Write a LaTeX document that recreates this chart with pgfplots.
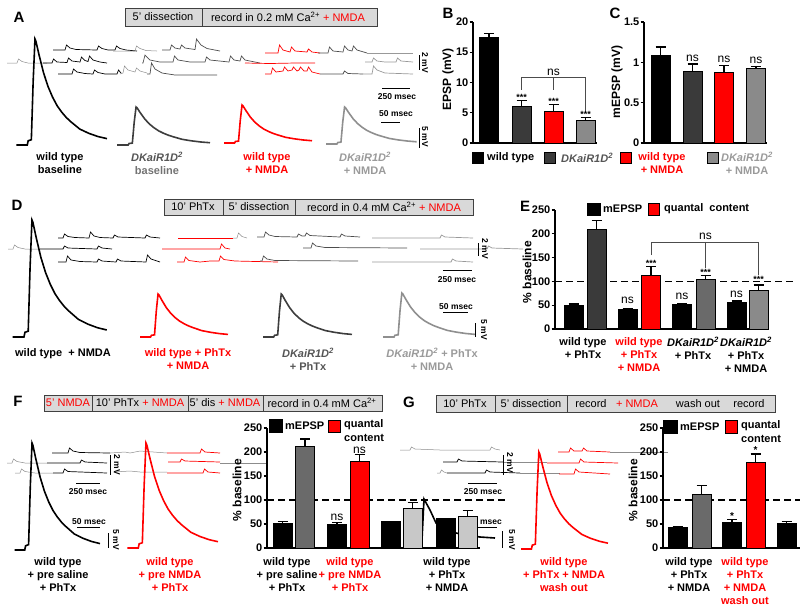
\documentclass[border=0pt]{standalone}
\usepackage{pgfplots}
\pgfplotsset{compat=1.18}
\usepackage{pgfplotstable}
\usepackage{fontspec}
\setmainfont{Liberation Sans}
\definecolor{dg}{HTML}{3D3D3D}
\definecolor{lg}{HTML}{8F8F8F}
\definecolor{boxg}{HTML}{D9D9D9}
\definecolor{txtdg}{HTML}{555555}
\definecolor{txtlg}{HTML}{9A9A9A}
\definecolor{barlg}{HTML}{C8C8C8}
\definecolor{bardg}{HTML}{3A3A3A}
\definecolor{barmg}{HTML}{6A6A6A}
\definecolor{barg}{HTML}{8A8A8A}

\pgfplotstableread{
t v
0 0
0.12 0
0.13 0.04
0.165 0.05
0.185 0.6
0.205 1.0
0.215 0.98
0.25 0.85
0.30 0.68
0.35 0.55
0.40 0.45
0.45 0.37
0.50 0.31
0.55 0.26
0.60 0.22
0.70 0.15
0.80 0.11
0.90 0.08
1.00 0.06
}\epsp

\newcommand{\fs}{\fontsize{11}{13}\selectfont}
\newcommand{\sm}{\fontsize{8.5}{10}\selectfont\bfseries}
\newcommand{\DK}{\textit{DKaiR1D\textsuperscript{2}}}
\newcommand{\EPSP}[6]{\addplot[#1, line width=#6] table[x expr=#2+\thisrow{t}*#3, y expr=#4-\thisrow{v}*#5]{\epsp};}
\newcommand{\T}[4][black]{\node[font=\fs\bfseries, align=center, anchor=north, inner sep=0pt, text=#1] at (axis cs:#2,#3) {#4};}
\newcommand{\BX}[4]{\draw[fill=boxg, draw=black!75, line width=0.6pt] (axis cs:#1,#2) rectangle (axis cs:#3,#4);}
\newcommand{\VL}[3]{\draw[black!75, line width=0.6pt] (axis cs:#1,#2) -- (axis cs:#1,#3);}
\newcommand{\BT}[3]{\node[font=\fs, inner sep=0pt] at (axis cs:#1,#2) {#3};}
\newcommand{\PL}[3]{\node[font=\fontsize{15}{15}\selectfont\bfseries, inner sep=0pt] at (axis cs:#1,#2) {#3};}
\newcommand{\SQ}[5]{\draw[fill=#5, draw=black, line width=0.6pt] (axis cs:#1,#2) rectangle (axis cs:#3,#4);}

\pgfplotsset{
 trk/.style={black, line width=0.7pt},
 trg/.style={color=black!45, line width=0.5pt},
 trd/.style={color=black!70, line width=0.7pt},
 trl/.style={color=black!40, line width=0.7pt},
 trr/.style={red, line width=0.7pt},
 barax/.style={scale only axis, anchor=south west, clip=false,
  axis x line=bottom, axis y line=left, axis line style={-, line width=1.3pt},
  xtick=\empty, ymin=0, tick align=outside, ytick pos=left, major tick length=3.5pt,
  every tick/.style={black, line width=1.3pt},
  yticklabel style={font=\fs\bfseries, inner sep=1pt},
  /pgf/number format/assume math mode=true},
 bb/.style={ybar, bar width=19pt, draw=black, line width=0.8pt, fill=#1},
 eb/.style={error bars/.cd, y dir=plus, y explicit, error bar style={line width=1.2pt, black},
  error mark options={rotate=90, mark size=5pt, line width=1.2pt, black}},
}

\begin{document}
\begin{tikzpicture}
\useasboundingbox (0pt,0pt) rectangle (800pt,-614pt);
\begin{axis}[at={(0pt,0pt)}, anchor=north west, scale only axis, width=800pt, height=614pt,
  xmin=0, xmax=800, ymin=0, ymax=614, y dir=reverse, hide axis, clip=false]

% ---------- timeline boxes ----------
\BX{125}{8}{377}{26}\VL{202}{8}{26}
\BT{163}{17}{5' dissection}
\BT{288}{17}{record in 0.2 mM Ca\textsuperscript{2+} \textcolor{red}{+ NMDA}}

\BX{164}{199}{473}{215}\VL{223}{199}{215}\VL{295}{199}{215}
\BT{193}{207}{10' PhTx}
\BT{259}{207}{5' dissection}
\BT{384}{207}{record in 0.4 mM Ca\textsuperscript{2+} \textcolor{red}{+ NMDA}}

\BX{44}{395}{382}{411}\VL{92}{395}{411}\VL{188}{395}{411}\VL{263}{395}{411}
\BT{68}{403}{\textcolor{red}{5' NMDA}}
\BT{140}{403}{10' PhTx \textcolor{red}{+ NMDA}}
\BT{225}{403}{5' dis \textcolor{red}{+ NMDA}}
\BT{322}{403}{record in 0.4 mM Ca\textsuperscript{2+}}

\BX{436}{395}{775}{412}\VL{495}{395}{412}\VL{567}{395}{412}
\BT{465}{404}{10' PhTx}
\BT{531}{404}{5' dissection}
\BT{591}{404}{record}
\BT{637}{404}{\textcolor{red}{+ NMDA}}
\BT{698}{404}{wash out}
\BT{749}{404}{record}

% ---------- panel A minis ----------
\addplot[trk] coordinates {(53,50)(65,50)(66.5,45)(70,48)(76,49.5)(97,50)(98.5,46)(102,48.5)(108,50)(115,50)(116.5,46)(120,48.5)(126,50)(137,51)};
\addplot[trg] coordinates {(113,51)(135,51)(136.5,46)(140,48.5)(146,50.5)(157,51)};
\addplot[trd] coordinates {(162,50)(170,50)(171.5,45)(175,48)(180,49)(181.5,45)(185,48)(195,49.5)(196.5,39)(201,45)(207,48.5)(220,51)};
\addplot[trg] coordinates {(7,63)(17,63)(18.5,59)(22,61.5)(28,63)(47,63)};
\addplot[trk] coordinates {(43,63)(52,63)(53.5,59)(57,62)(67,62.5)(68.5,58)(72,61)(80,62)(81.5,57)(85,60.5)(88,61.5)(89.5,56)(93,60)(100,62)(107,63)};
\addplot[trd] coordinates {(142,63)(143,63)(145,55)(150,60)(160,62)(173,62)(174.5,56)(178,60)(190,62)(205,62)(206.5,57)(210,60)(229,62)(230.5,56)(234,60)(240,61)(241.5,56)(245,60)(260,63)};
\addplot[trk] coordinates {(58,74)(72,74)(73.5,69)(77,72)(85,73.5)(93,74)(94.5,70)(98,72.5)(105,74)(117,74)(118.5,70)(121,73)};
\addplot[trg] coordinates {(120,74)(123,73)(124.5,66)(128,70)(135,72)(136.5,68)(140,71)(147,73)};
\addplot[trd] coordinates {(147,74)(150,74)(151.5,63)(155,69)(162,73)(175,75)(217,75)};
\addplot[trr] coordinates {(265,53)(278,53)(279.5,45)(283,50)(290,52)(291.5,47)(295,51)(307,52)(308.5,49)(312,52)(320,53)};
\addplot[trr] coordinates {(245,63)(270,63.5)(295,63)(315,63)};
\addplot[trr] coordinates {(265,74)(271,74)(272.5,68)(276,72)(283,71)(284.5,67)(288,71)(292,70)(293.5,67)(297,71)(299,70)(300.5,67)(304,71)(307,71)(308.5,67)(312,72)(320,74)};
\addplot[trd] coordinates {(318,53)(328,53)(329.5,47)(333,51)(343,52)(344.5,46)(348,50)(352,51)(353.5,46)(357,50)(367,53)};
\addplot[trl] coordinates {(367,53)(413,53)};
\addplot[trl] coordinates {(365,62)(372,62)(373.5,58)(377,61)(385,62)(396,62)(397.5,58)(401,61)(413,62)};
\addplot[trd] coordinates {(320,74)(343,74)(344.5,71)(348,73.5)(363,74)};
\addplot[trl] coordinates {(363,74)(372,74)(373.5,66)(377,70)(385,73)(413,74)};

% ---------- panel D minis ----------
\addplot[trk] coordinates {(58,238)(63,238)(64.5,234)(68,236.5)(75,237.5)(89,238)(90.5,232)(94,236)(100,237.5)(113,238)(114.5,235)(118,237)(145,238)(146.5,235)(150,237)(160,238)};
\addplot[trr] coordinates {(178,238)(233,238)};
\addplot[trg] coordinates {(233,238)(237,238)(238.5,233)(242,236.5)(247,238)};
\addplot[trd] coordinates {(257,237)(264,237)(265.5,232)(269,235)(275,236.5)(297,237)(298.5,234)(302,236)(305,236)(306.5,233)(310,235.5)(340,237)(341.5,234)(345,236)(360,237)};
\addplot[trl] coordinates {(372,238)(440,238)(441.5,235)(445,237)(473,238)};
\addplot[trg] coordinates {(8,249)(13,249)(14.5,245)(18,247.5)(25,249)(40,249)};
\addplot[trk] coordinates {(40,249)(63,249)(64.5,246)(68,248)(97,249)(98.5,246)(102,248)(112,249)};
\addplot[trr] coordinates {(162,249)(220,249)(221.5,244)(225,248)(230,249)};
\addplot[trd] coordinates {(303,248)(311,248)(312.5,243)(316,246)(325,247.5)(407,248)};
\addplot[trl] coordinates {(420,249)(487,249)(488.5,246)(492,248)(523,249)};
\addplot[trk] coordinates {(58,262)(66,262)(67.5,256)(71,260)(80,261.5)(97,262)(98.5,259)(102,261)(116,262)(117.5,259)(121,261)(146,262)(147.5,255)(151,259)(160,262)};
\addplot[trr] coordinates {(177,262)(184,262)(185.5,257)(189,260.5)(200,262)(210,261)(219,261)(220.5,256)(224,259.5)(235,261)(278,262)};
\addplot[trd] coordinates {(260,261)(262,261)(263.5,256)(267,259)(275,260.5)(358,261)};
\addplot[trl] coordinates {(372,262)(451,262)(452.5,259)(456,261)(473,262)};

% ---------- panel F minis ----------
\addplot[trk] coordinates {(52,453)(68,453)(69.5,448)(73,451)(80,452.5)(110,453)};
\addplot[trg] coordinates {(110,453)(125,452)(130,453)(140,451)(167,453)};
\addplot[trr] coordinates {(167,453)(200,453)(201.5,449)(205,452)(220,453)};
\addplot[trg] coordinates {(7,463)(12,463)(13.5,459)(17,461.5)(25,463)(47,463)};
\addplot[trk] coordinates {(47,463)(80,463)(81.5,460)(85,462)(107,463)};
\addplot[trr] coordinates {(168,462)(180,462)(181.5,459)(185,461)(220,462)};
\addplot[trg] coordinates {(220,463)(267,463)};
\addplot[trg] coordinates {(15,473)(20,473)(21.5,469)(25,471.5)(35,473)(53,473)};
\addplot[trk] coordinates {(53,473)(63,473)(64.5,469)(68,471.5)(107,473)};
\addplot[trg] coordinates {(113,472)(130,471)(140,472)(167,472)};
\addplot[trr] coordinates {(167,473)(203,473)(204.5,469)(208,472)(220,473)};

% ---------- panel G minis ----------
\addplot[trg] coordinates {(400,450)(410,450)(411.5,447)(415,449)(440,450)(490,450)(491.5,447)(495,449)(500,450)};
\addplot[trr] coordinates {(558,452)(569,452)(570.5,448)(574,451)(582,451)(583.5,448)(587,451)(610,452)};
\addplot[trg] coordinates {(610,452)(668,452)};
\addplot[trk] coordinates {(443,462)(457,462)(458.5,459)(462,461)(503,462)};
\addplot[trg] coordinates {(503,462)(547,462)};
\addplot[trr] coordinates {(547,463)(579,463)(580.5,459)(584,462)(618,463)};
\addplot[trg] coordinates {(437,473)(440,473)(441.5,470)(444,472)(447,473)};
\addplot[trk] coordinates {(447,473)(485,473)(486.5,470)(490,472)(520,473)};
\addplot[trg] coordinates {(520,473)(560,473)};
\addplot[trr] coordinates {(559,474)(574,474)(575.5,469)(579,472)(610,474)};

% ---------- EPSP traces ----------
\EPSP{black}{16.4}{90.6}{145}{106}{1.6pt}
\EPSP{dg}{117}{93}{145}{38}{1.6pt}
\EPSP{red}{224}{88}{143}{38}{1.6pt}
\EPSP{lg}{326}{90.6}{144}{37}{1.6pt}
\EPSP{black}{12.7}{94}{337}{117}{1.6pt}
\EPSP{red}{140}{88}{337}{43}{1.6pt}
\EPSP{dg}{263}{89}{337}{43}{1.6pt}
\EPSP{lg}{383}{92}{337}{44}{1.6pt}
\EPSP{black}{14.5}{85.5}{550}{107}{1.6pt}
\EPSP{red}{127.4}{90.6}{548}{105}{1.6pt}
\EPSP{red}{521}{87}{549}{97}{1.6pt}
\addplot[black, line width=1.6pt] coordinates {(408,548)(420,547)(422,540)(424,499)(430,510)(436,523)(445,530)(460,534)(480,537)(495,538)};

% ---------- scale bars ----------
\draw[black, line width=0.7pt] (axis cs:419,55) -- (axis cs:419,70);
\node[font=\sm, rotate=-90, inner sep=0pt] at (axis cs:425,63) {2 mV};
\draw[black, line width=0.7pt] (axis cs:382,88) -- (axis cs:410,88);
\node[font=\sm, inner sep=0pt] at (axis cs:397,97) {250 msec};
\node[font=\sm, inner sep=0pt] at (axis cs:396,114) {50 msec};
\draw[black, line width=0.7pt] (axis cs:381,122) -- (axis cs:400,122);
\draw[black, line width=0.7pt] (axis cs:419,128) -- (axis cs:419,148);
\node[font=\sm, rotate=-90, inner sep=0pt] at (axis cs:425,137) {5 mV};

\draw[black, line width=0.7pt] (axis cs:478,243) -- (axis cs:478,256);
\node[font=\sm, rotate=-90, inner sep=0pt] at (axis cs:485,249) {2 mV};
\draw[black, line width=0.7pt] (axis cs:443,270) -- (axis cs:472,270);
\node[font=\sm, inner sep=0pt] at (axis cs:457,280) {250 msec};
\node[font=\sm, inner sep=0pt] at (axis cs:456,307) {50 msec};
\draw[black, line width=0.7pt] (axis cs:443,312) -- (axis cs:468,312);
\draw[black, line width=0.7pt] (axis cs:475,323) -- (axis cs:475,337);
\node[font=\sm, rotate=-90, inner sep=0pt] at (axis cs:484,330) {5 mV};

\draw[black, line width=0.7pt] (axis cs:110,455) -- (axis cs:110,475);
\node[font=\sm, rotate=-90, inner sep=0pt] at (axis cs:117,465) {2 mV};
\draw[black, line width=0.7pt] (axis cs:76,483) -- (axis cs:100,483);
\node[font=\sm, inner sep=0pt] at (axis cs:88,492) {250 msec};
\node[font=\sm, inner sep=0pt] at (axis cs:89,522) {50 msec};
\draw[black, line width=0.7pt] (axis cs:77,527) -- (axis cs:100,527);
\draw[black, line width=0.7pt] (axis cs:108,533) -- (axis cs:108,548);
\node[font=\sm, rotate=-90, inner sep=0pt] at (axis cs:116,540) {5 mV};

\draw[black, line width=0.7pt] (axis cs:503,455) -- (axis cs:503,475);
\node[font=\sm, rotate=-90, inner sep=0pt] at (axis cs:510,463) {2 mV};
\draw[black, line width=0.7pt] (axis cs:468,483) -- (axis cs:497,483);
\node[font=\sm, inner sep=0pt] at (axis cs:483,492) {250 msec};
\node[font=\sm, inner sep=0pt] at (axis cs:485,522) {50 msec};
\draw[black, line width=0.7pt] (axis cs:469,527) -- (axis cs:497,527);
\draw[black, line width=0.7pt] (axis cs:502,531) -- (axis cs:502,548);
\node[font=\sm, rotate=-90, inner sep=0pt] at (axis cs:512,540) {5 mV};

% ---------- trace labels ----------
\T{60}{152}{wild type\\baseline}
\T{157}{152}{\textcolor{txtdg}{\DK}\\\textcolor{black!55}{baseline}}
\T[red]{267}{152}{wild type\\+ NMDA}
\T[txtlg]{365}{152}{\DK\\+ NMDA}

\T{63}{348}{wild type \ + NMDA}
\T[red]{188}{348}{wild type + PhTx\\+ NMDA}
\T[txtdg]{308}{348}{\DK\\+ PhTx}
\T[txtlg]{432}{348}{\DK{} + PhTx\\+ NMDA}

\T{58}{557}{wild type\\+ pre saline\\+ PhTx}
\T[red]{170}{557}{wild type\\+ pre NMDA\\+ PhTx}
\T{447}{557}{wild type\\+ PhTx\\+ NMDA}
\T[red]{564}{557}{wild type\\+ PhTx + NMDA\\wash out}

% ---------- bar chart x labels ----------
\T{583}{337}{wild type\\+ PhTx}
\T[red]{639}{337}{wild type\\+ PhTx\\+ NMDA}
\T{693}{337}{\DK\\+ PhTx}
\T{746}{337}{\DK\\+ PhTx\\+ NMDA}
\T{287}{557}{wild type\\+ pre saline\\+ PhTx}
\T[red]{350}{557}{wild type\\+ pre NMDA\\+ PhTx}
\T{689}{557}{wild type\\+ PhTx\\+ NMDA}
\T[red]{745}{557}{wild type\\+ PhTx\\+ NMDA\\wash out}

% ---------- y labels ----------
\node[font=\fontsize{12}{13}\selectfont\bfseries, rotate=90, inner sep=0pt] at (axis cs:448,79) {EPSP (mV)};
\node[font=\fontsize{12}{13}\selectfont\bfseries, rotate=90, inner sep=0pt] at (axis cs:617,82) {mEPSP (mV)};
\node[font=\fontsize{12}{13}\selectfont\bfseries, rotate=90, inner sep=0pt] at (axis cs:527,272) {\% baseline};
\node[font=\fontsize{12}{13}\selectfont\bfseries, rotate=90, inner sep=0pt] at (axis cs:237,490) {\% baseline};
\node[font=\fontsize{12}{13}\selectfont\bfseries, rotate=90, inner sep=0pt] at (axis cs:633,490) {\% baseline};

% ---------- legends ----------
\SQ{472}{152}{483}{163}{black}
\node[font=\fs\bfseries, anchor=west, inner sep=0pt] at (axis cs:487,158) {wild type};
\SQ{544}{152}{555}{163}{bardg}
\node[font=\fs\bfseries, anchor=west, inner sep=0pt, text=txtdg] at (axis cs:561,158) {\DK};
\SQ{620}{152}{631}{163}{red}
\T[red]{662}{152}{wild type\\+ NMDA}
\SQ{707}{152}{718}{163}{barg}
\T[txtlg]{747}{152}{\DK\\+ NMDA}

\SQ{587}{203}{600}{215}{black}
\node[font=\fs\bfseries, anchor=west, inner sep=0pt] at (axis cs:603,209) {mEPSP};
\SQ{648}{203}{659}{215}{red}
\node[font=\fs\bfseries, anchor=west, inner sep=0pt] at (axis cs:664,209) {quantal \ content};

\SQ{269}{419}{282}{432}{black}
\node[font=\fs\bfseries, anchor=west, inner sep=0pt] at (axis cs:285,426) {mEPSP};
\SQ{328}{420}{340}{432}{red}
\node[font=\fs\bfseries, anchor=west, inner sep=0pt] at (axis cs:344,425) {quantal};
\node[font=\fs\bfseries, anchor=west, inner sep=0pt] at (axis cs:344,438) {content};

\SQ{663}{420}{677}{433}{black}
\node[font=\fs\bfseries, anchor=west, inner sep=0pt] at (axis cs:680,427) {mEPSP};
\SQ{725}{420}{737}{433}{red}
\node[font=\fs\bfseries, anchor=west, inner sep=0pt] at (axis cs:741,426) {quantal};
\node[font=\fs\bfseries, anchor=west, inner sep=0pt] at (axis cs:741,439) {content};

% ---------- panel letters ----------
\PL{19}{17}{A}
\PL{448}{13}{B}
\PL{615}{13}{C}
\PL{17}{205}{D}
\PL{525}{206}{E}
\PL{18}{401}{F}
\PL{409}{402}{G}
\end{axis}

% ================= B =================
\begin{axis}[barax, at={(473pt,-143pt)}, xmin=473, xmax=597, width=124pt, height=121pt,
  ymax=20, ytick={0,5,10,15,20}]
\addplot[bb=black, eb] coordinates {(489,17.5) +- (0,0.6)};
\addplot[bb=bardg, eb] coordinates {(521.5,6.1) +- (0,0.9)};
\addplot[bb=red, eb] coordinates {(553.5,5.2) +- (0,1.2)};
\addplot[bb=barg, eb] coordinates {(585.5,3.7) +- (0,0.5)};
\draw[black!70, line width=0.7pt] (axis cs:521.5,8.8) -- (axis cs:521.5,10.8) -- (axis cs:585.5,10.8) -- (axis cs:585.5,5.1);
\draw[black!70, line width=0.7pt] (axis cs:553.5,10.8) -- (axis cs:553.5,8.8);
\node[font=\fontsize{12}{12}\selectfont, anchor=base, inner sep=0pt] at (axis cs:553.5,11.2) {ns};
\node[font=\fontsize{9}{9}\selectfont\bfseries, anchor=south, inner sep=0pt] at (axis cs:521.5,7.0) {***};
\node[font=\fontsize{9}{9}\selectfont\bfseries, anchor=south, inner sep=0pt] at (axis cs:553.5,6.4) {***};
\node[font=\fontsize{9}{9}\selectfont\bfseries, anchor=south, inner sep=0pt] at (axis cs:585.5,4.2) {***};
\end{axis}

% ================= C =================
\begin{axis}[barax, at={(644pt,-143pt)}, xmin=644, xmax=767, width=123pt, height=121pt,
  ymax=1.5, ytick={0,0.5,1,1.5}, yticklabels={0,0.5,1,1.5}]
\addplot[bb=black, eb] coordinates {(660.5,1.08) +- (0,0.11)};
\addplot[bb=bardg, eb] coordinates {(692.5,0.89) +- (0,0.09)};
\addplot[bb=red, eb] coordinates {(724,0.88) +- (0,0.08)};
\addplot[bb=barg, eb] coordinates {(756,0.92) +- (0,0.03)};
\node[font=\fontsize{12}{12}\selectfont, anchor=base, inner sep=0pt] at (axis cs:692.5,1.01) {ns};
\node[font=\fontsize{12}{12}\selectfont, anchor=base, inner sep=0pt] at (axis cs:724,1.0) {ns};
\node[font=\fontsize{12}{12}\selectfont, anchor=base, inner sep=0pt] at (axis cs:756,0.99) {ns};
\end{axis}

% ================= E =================
\begin{axis}[barax, at={(555pt,-329pt)}, xmin=555, xmax=769, width=214pt, height=119pt,
  ymax=250, ytick={0,50,100,150,200,250}]
\draw[black, line width=1.2pt, dash pattern=on 7pt off 4pt] (axis cs:555,100) -- (axis cs:793,100);
\addplot[bb=black, eb] coordinates {(573.5,49.8) +- (0,2.7)};
\addplot[bb=bardg, eb] coordinates {(596.5,210) +- (0,17.5)};
\addplot[bb=black, eb] coordinates {(627.5,40.6) +- (0,2.9)};
\addplot[bb=red, eb] coordinates {(651,113.4) +- (0,17.6)};
\addplot[bb=black, eb] coordinates {(682,51) +- (0,3)};
\addplot[bb=barmg, eb] coordinates {(705.5,105) +- (0,7.8)};
\addplot[bb=black, eb] coordinates {(736.5,56) +- (0,2.8)};
\addplot[bb=barg, eb] coordinates {(758.5,82) +- (0,10.4)};
\draw[black!70, line width=0.7pt] (axis cs:651,155) -- (axis cs:651,183) -- (axis cs:758.5,183) -- (axis cs:758.5,113);
\draw[black!70, line width=0.7pt] (axis cs:705.5,183) -- (axis cs:705.5,128);
\node[font=\fontsize{12}{12}\selectfont, anchor=base, inner sep=0pt] at (axis cs:705.5,187) {ns};
\node[font=\fontsize{9}{9}\selectfont\bfseries, anchor=south, inner sep=0pt] at (axis cs:651,131) {***};
\node[font=\fontsize{9}{9}\selectfont\bfseries, anchor=south, inner sep=0pt] at (axis cs:705.5,113) {***};
\node[font=\fontsize{9}{9}\selectfont\bfseries, anchor=south, inner sep=0pt] at (axis cs:758.5,97) {***};
\node[font=\fontsize{12}{12}\selectfont, anchor=base, inner sep=0pt] at (axis cs:627.5,53) {ns};
\node[font=\fontsize{12}{12}\selectfont, anchor=base, inner sep=0pt] at (axis cs:682,62) {ns};
\node[font=\fontsize{12}{12}\selectfont, anchor=base, inner sep=0pt] at (axis cs:736.5,67) {ns};
\end{axis}

% ================= F =================
\begin{axis}[barax, at={(267pt,-548pt)}, xmin=267, xmax=480, width=213pt, height=120pt,
  ymax=250, ytick={0,50,100,150,200,250}]
\draw[black, line width=1.2pt, dash pattern=on 7pt off 4pt] (axis cs:267,100) -- (axis cs:505,100);
\addplot[bb=black, eb] coordinates {(282.5,51) +- (0,3.5)};
\addplot[bb=barmg, eb] coordinates {(305,211.5) +- (0,15.5)};
\addplot[bb=black, eb] coordinates {(337,49.6) +- (0,2.8)};
\addplot[bb=red, eb] coordinates {(359.5,180) +- (0,14)};
\addplot[bb=black] coordinates {(391,56)};
\addplot[bb=barlg, eb] coordinates {(412.5,83) +- (0,11)};
\addplot[bb=black] coordinates {(445.5,61)};
\addplot[bb=barlg, eb] coordinates {(467.5,66) +- (0,12)};
\node[font=\fontsize{12}{12}\selectfont, anchor=base, inner sep=0pt] at (axis cs:337,58) {ns};
\node[font=\fontsize{12}{12}\selectfont, anchor=base, inner sep=0pt] at (axis cs:359.5,196) {ns};
\end{axis}

% ================= G =================
\begin{axis}[barax, at={(663pt,-548pt)}, xmin=663, xmax=800, width=137pt, height=120pt,
  ymax=250, ytick={0,50,100,150,200,250}]
\draw[black, line width=1.2pt, dash pattern=on 7pt off 4pt] (axis cs:663,100) -- (axis cs:800,100);
\addplot[bb=black, eb] coordinates {(677.5,43) +- (0,2)};
\addplot[bb=barmg, eb] coordinates {(701.5,112.5) +- (0,17.5)};
\addplot[bb=black, eb] coordinates {(732,53.5) +- (0,5.5)};
\addplot[bb=red, eb] coordinates {(755.5,178) +- (0,18)};
\addplot[bb=black, eb] coordinates {(786.5,52) +- (0,3)};
\node[font=\fontsize{10}{10}\selectfont\bfseries, anchor=south, inner sep=0pt] at (axis cs:732,60) {*};
\node[font=\fontsize{10}{10}\selectfont\bfseries, anchor=south, inner sep=0pt] at (axis cs:755.5,197) {*};
\end{axis}
\end{tikzpicture}
\end{document}
